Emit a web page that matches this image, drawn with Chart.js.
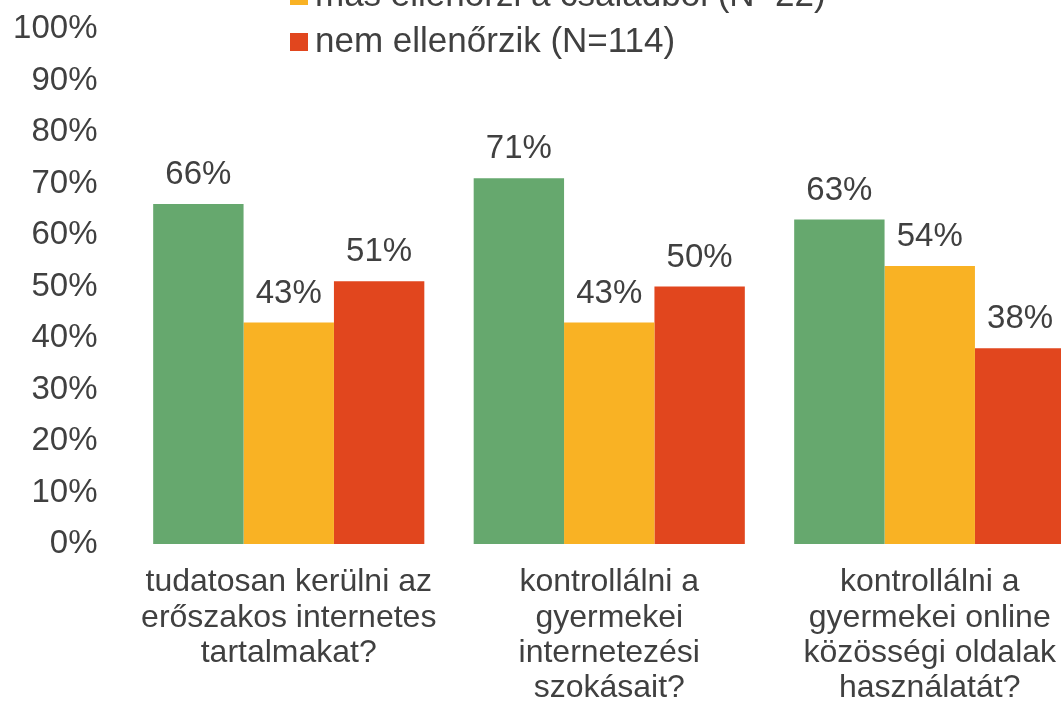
<!DOCTYPE html>
<html lang="hu">
  <head>
    <meta charset="UTF-8" />
    <title>Ellenőrzés</title>
    <script src="https://cdn.jsdelivr.net/npm/chart.js"></script>
    <style>
      html, body { margin: 0; padding: 0; background: #fff; overflow: hidden; }
      body { width: 1061px; height: 702px; position: relative; }
      .wrap { position: absolute; left: 0; top: 0; width: 1090px; height: 702px; }
      .legend { position: absolute; left: 290px; top: -75px; font: 35px "Liberation Sans", Arial, sans-serif; color: #404040; }
      .legend div { height: 46px; line-height: 46px; white-space: nowrap; }
      .legend span { display: inline-block; width: 18px; height: 18px; margin-right: 7px; vertical-align: 1px; }
    </style>
  </head>
  <body>
    <div class="wrap"><canvas id="chart"></canvas></div>
    <div class="legend" id="legend"></div>

    <script>
      // adatok
      const categories = [
        ["tudatosan kerülni az", "erőszakos internetes", "tartalmakat?"],
        ["kontrollálni a", "gyermekei", "internetezési", "szokásait?"],
        ["kontrollálni a", "gyermekei online", "közösségi oldalak", "használatát?"]
      ];
      const seriesNames = ["maga ellenőrzi", "más ellenőrzi a családból (N=22)", "nem ellenőrzik (N=114)"];
      const seriesColors = ["#66a86e", "#f9b224", "#e1461e"];
      const valuesGreen = [66, 71, 63];
      const valuesOrange = [43, 43, 54];
      const valuesRed = [51, 50, 38];
      const yTicks = [0, 10, 20, 30, 40, 50, 60, 70, 80, 90, 100];

      const textColor = "#404040";
      const fontFamily = '"Liberation Sans", Arial, sans-serif';

      // oszlopok feletti értékek
      const valueLabels = {
        id: "valueLabels",
        afterDatasetsDraw(chart) {
          const ctx = chart.ctx;
          ctx.save();
          ctx.font = "33px " + fontFamily;
          ctx.fillStyle = textColor;
          ctx.textAlign = "center";
          ctx.textBaseline = "middle";
          chart.data.datasets.forEach((ds, i) => {
            chart.getDatasetMeta(i).data.forEach((bar, j) => {
              ctx.fillText(ds.data[j] + "%", bar.x, bar.y - 29);
            });
          });
          ctx.restore();
        }
      };

      const values = [valuesGreen, valuesOrange, valuesRed];
      const chart = new Chart(document.getElementById("chart"), {
        type: "bar",
        data: {
          labels: categories,
          datasets: values.map((v, i) => ({
            label: seriesNames[i],
            data: v,
            backgroundColor: seriesColors[i],
            categoryPercentage: 0.846,
            barPercentage: 1
          }))
        },
        options: {
          responsive: true,
          maintainAspectRatio: false,
          animation: false,
          layout: { padding: { top: 29, left: 0, right: 0, bottom: 0 } },
          plugins: {
            legend: { display: false },
            tooltip: { enabled: false }
          },
          scales: {
            x: {
              grid: { display: false, drawTicks: false },
              border: { display: false },
              ticks: {
                color: textColor,
                font: { size: 32, family: fontFamily, lineHeight: 1.1 },
                padding: 21,
                maxRotation: 0,
                autoSkip: false
              },
              afterFit: (s) => { s.height = 158; }
            },
            y: {
              min: 0,
              max: 100,
              grid: { display: false, drawTicks: false },
              border: { display: false },
              afterBuildTicks: (s) => { s.ticks = yTicks.map((v) => ({ value: v })); },
              ticks: {
                color: textColor,
                font: { size: 33, family: fontFamily },
                padding: 31,
                callback: (v) => v + "%"
              },
              afterFit: (s) => {
                s.width = 128.5;
                s.paddingTop = 0;
                s.paddingBottom = 0;
              }
            }
          }
        },
        plugins: [valueLabels]
      });

      // jelmagyarázat
      const legend = document.getElementById("legend");
      chart.data.datasets.forEach((ds) => {
        const row = document.createElement("div");
        row.innerHTML = '<span style="background:' + ds.backgroundColor + '"></span>' + ds.label;
        legend.appendChild(row);
      });
    </script>
  </body>
</html>
